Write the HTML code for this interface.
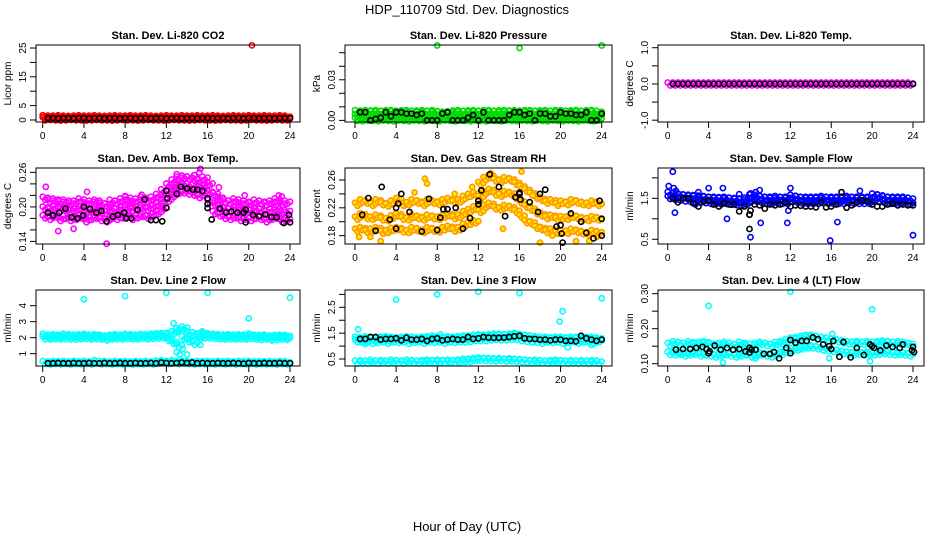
<!DOCTYPE html>
<html><head><meta charset="utf-8"><style>
body{margin:0;background:#fff;}
svg{display:block;font-family:"Liberation Sans",sans-serif;}
</style></head><body>
<svg id="chart" width="936" height="540" viewBox="0 0 936 540" xmlns="http://www.w3.org/2000/svg">
<rect width="936" height="540" fill="#fff"/>
<text x="467" y="14" font-size="13" text-anchor="middle">HDP_110709  Std. Dev. Diagnostics</text>
<text x="467" y="531" font-size="13" text-anchor="middle">Hour of Day (UTC)</text>
</svg>
<script>
const NS="http://www.w3.org/2000/svg";
const xTicks=[0,4,8,12,16,20,24];
const denseT=[0.25,0.75,1.25,1.75,2.25,2.75,3.25,3.75,4.25,4.75,5.25,5.75,6.25,6.75,7.25,7.75,8.25,8.75,9.25,9.75,10.25,10.75,11.25,11.75,12.25,12.75,13.25,13.75,14.25,14.75,15.25,15.75,16.25,16.75,17.25,17.75,18.25,18.75,19.25,19.75,20.25,20.75,21.25,21.75,22.25,22.75,23.25,23.75];
const blkT=[0.5,1,1.5,2,2.5,3,3.5,4,4.5,5,5.5,6,6.5,7,7.5,8,8.5,9,9.5,10,10.5,11,11.5,12,12.5,13,13.5,14,14.5,15,15.5,16,16.5,17,17.5,18,18.5,19,19.5,20,20.5,21,21.5,22,22.5,23,23.5,24];

// Panel 1 CO2
const co2Hi=[1.1,1.0,1.0,1.1,1.0,0.9,1.0,1.1,1.0,1.0,1.1,1.0,0.9,1.0,1.1,1.0,1.0,1.1,1.0,1.0,1.1,1.0,0.9,1.0,1.1,1.0,1.0,1.1,1.0,1.0,1.1,1.0,1.0,1.1,1.0,0.9,1.0,1.1,1.0,1.0,1.1,1.0,1.0,1.1,1.0,1.0,1.1,1.0];
const co2Lo=[0.4,0.5,0.4,0.3,0.4,0.5,0.4,0.4,0.3,0.4,0.5,0.4,0.4,0.3,0.4,0.5,0.4,0.4,0.3,0.4,0.5,0.4,0.4,0.3,0.4,0.5,0.4,0.4,0.3,0.4,0.5,0.4,0.4,0.3,0.4,0.5,0.4,0.4,0.3,0.4,0.5,0.4,0.4,0.3,0.4,0.5,0.4,0.4];
const co2OutT=[0.1,20.3];
const co2OutV=[1.0,25.9];
const co2Blk=[0.7,0.7,0.6,0.7,0.7,0.6,0.7,0.7,0.6,0.7,0.7,0.6,0.7,0.7,0.6,0.7,0.7,0.6,0.7,0.7,0.6,0.7,0.7,0.6,0.7,0.7,0.6,0.7,0.7,0.6,0.7,0.7,0.6,0.7,0.7,0.6,0.7,0.7,0.6,0.7,0.7,0.6,0.7,0.7,0.6,0.7,0.7,0.6];
// Panel 2 pressure
const presHi=[0.0065,0.006,0.0065,0.0062,0.0065,0.006,0.0064,0.0065,0.006,0.0063,0.0065,0.006,0.0062,0.0065,0.006,0.0064,0.0055,0.0052,0.0055,0.0062,0.0065,0.006,0.0063,0.0065,0.006,0.0064,0.0065,0.006,0.0063,0.0065,0.0062,0.0065,0.006,0.0064,0.0065,0.006,0.0063,0.0065,0.006,0.0064,0.0065,0.006,0.0063,0.0065,0.006,0.0064,0.0065,0.006];
const presMid=[0.0035,0.003,0.0032,0.0035,0.003,0.0033,0.0035,0.003,0.0032,0.0035,0.003,0.0033,0.0035,0.003,0.0032,0.0035,0.003,0.0028,0.003,0.0032,0.0035,0.003,0.0033,0.0035,0.003,0.0032,0.0035,0.003,0.0033,0.0035,0.003,0.0032,0.0035,0.003,0.0033,0.0035,0.003,0.0032,0.0035,0.003,0.0033,0.0035,0.003,0.0032,0.0035,0.003,0.0033,0.0035];
const presLo=[0.0008,0.0005,0.001,0.0008,0.0005,0.001,0.0008,0.0005,0.001,0.0008,0.0005,0.001,0.0008,0.0005,0.001,0.0008,0.0005,0.001,0.0008,0.0005,0.001,0.0008,0.0005,0.001,0.0008,0.0005,0.001,0.0008,0.0005,0.001,0.0008,0.0005,0.001,0.0008,0.0005,0.001,0.0008,0.0005,0.001,0.0008,0.0005,0.001,0.0008,0.0005,0.001,0.0008,0.0005,0.001];
const presOutT=[8,16,24];
const presOutV=[0.0553,0.0535,0.0553];
const presBlk=[0.006,0.006,0.000,0.001,0.002,0.006,0.003,0.006,0.006,0.005,0.005,0.004,0.005,0.000,0.000,0.000,0.005,0.006,0.000,0.000,0.000,0.002,0.004,0.000,0.006,0.000,0.000,0.000,0.000,0.004,0.006,0.006,0.004,0.005,0.000,0.005,0.005,0.003,0.003,0.006,0.005,0.005,0.004,0.004,0.006,0.000,0.000,0.005];
// Panel 3 temp
const tempMag=[0,0,0,0,0,0,0,0,0,0,0,0,0,0,0,0,0,0,0,0,0,0,0,0,0,0,0,0,0,0,0,0,0,0,0,0,0,0,0,0,0,0,0,0,0,0,0,0];
const tempBlk=[0,0,0,0,0,0,0,0,0,0,0,0,0,0,0,0,0,0,0,0,0,0,0,0,0,0,0,0,0,0,0,0,0,0,0,0,0,0,0,0,0,0,0,0,0,0,0,0];
// Panel 4 amb box temp
const ambHi=[0.215,0.21,0.212,0.208,0.21,0.205,0.208,0.212,0.205,0.208,0.21,0.205,0.203,0.21,0.208,0.212,0.215,0.208,0.212,0.215,0.21,0.215,0.22,0.228,0.238,0.245,0.25,0.252,0.25,0.248,0.245,0.25,0.24,0.222,0.215,0.21,0.208,0.212,0.205,0.208,0.205,0.21,0.208,0.205,0.208,0.212,0.205,0.208];
const ambMid=[0.198,0.195,0.2,0.195,0.197,0.192,0.195,0.198,0.19,0.195,0.197,0.192,0.19,0.196,0.194,0.198,0.2,0.195,0.198,0.2,0.196,0.2,0.205,0.212,0.225,0.232,0.238,0.24,0.238,0.236,0.232,0.236,0.225,0.205,0.2,0.196,0.194,0.198,0.192,0.195,0.192,0.196,0.194,0.19,0.194,0.196,0.19,0.192];
const ambLo=[0.183,0.18,0.185,0.178,0.182,0.178,0.18,0.183,0.176,0.18,0.182,0.178,0.176,0.182,0.18,0.183,0.185,0.18,0.183,0.185,0.182,0.186,0.19,0.198,0.212,0.22,0.225,0.226,0.224,0.222,0.218,0.222,0.21,0.19,0.186,0.182,0.18,0.183,0.178,0.18,0.178,0.182,0.18,0.176,0.18,0.182,0.176,0.178];
const ambOutT=[0.3,1.5,3.0,6.2,4.3,8.0,15.2,15.3,14.7,17.1,19.6,22.9,23.2,9.6,13.0];
const ambOutV=[0.235,0.158,0.162,0.136,0.226,0.219,0.26,0.266,0.255,0.234,0.22,0.22,0.218,0.221,0.257];
const ambBlkT=[0.5,1.0,1.6,2.2,2.8,3.4,3.9,4.0,4.6,5.2,5.7,6.2,6.8,7.3,7.9,8.1,8.6,9.2,9.9,10.5,11.0,11.6,12.0,12.0,12.1,13.0,13.4,14.0,14.6,15.0,15.5,16.0,16.0,16.0,16.4,17.2,17.8,18.3,18.9,19.5,19.7,19.7,20.4,21.0,21.6,22.2,22.7,23.4,23.9,24.0];
const ambBlkV=[0.19,0.185,0.19,0.197,0.182,0.18,0.185,0.20,0.196,0.19,0.193,0.175,0.183,0.186,0.19,0.18,0.18,0.195,0.213,0.177,0.177,0.175,0.198,0.228,0.215,0.223,0.235,0.232,0.23,0.23,0.228,0.215,0.205,0.198,0.178,0.197,0.19,0.192,0.19,0.19,0.195,0.173,0.186,0.184,0.187,0.182,0.182,0.172,0.186,0.173];
// Panel 5 RH
const rhHi=[0.225,0.23,0.228,0.225,0.23,0.226,0.224,0.228,0.232,0.225,0.226,0.23,0.228,0.225,0.23,0.228,0.226,0.23,0.232,0.228,0.23,0.235,0.238,0.24,0.255,0.262,0.265,0.26,0.258,0.262,0.26,0.255,0.25,0.245,0.24,0.235,0.232,0.228,0.23,0.225,0.228,0.226,0.23,0.228,0.226,0.225,0.228,0.225];
const rhMid=[0.205,0.21,0.206,0.205,0.208,0.204,0.203,0.207,0.21,0.205,0.204,0.208,0.206,0.204,0.208,0.206,0.205,0.208,0.21,0.206,0.208,0.213,0.216,0.22,0.235,0.242,0.245,0.24,0.238,0.242,0.24,0.235,0.228,0.222,0.218,0.213,0.21,0.206,0.208,0.204,0.206,0.205,0.208,0.206,0.204,0.203,0.206,0.204];
const rhLo=[0.188,0.19,0.186,0.188,0.19,0.185,0.186,0.189,0.19,0.187,0.186,0.19,0.188,0.186,0.19,0.188,0.187,0.19,0.192,0.188,0.19,0.195,0.198,0.2,0.215,0.222,0.225,0.22,0.218,0.222,0.22,0.215,0.208,0.2,0.198,0.192,0.19,0.186,0.188,0.185,0.186,0.185,0.188,0.186,0.184,0.183,0.186,0.184];
const rhOutT=[0.4,1.5,6.8,7.0,2.5,18.0,17.3,13.2,14.4,11.4,19.2,21.5,22.8,23.5,24.0,9.7,16.2,5.8];
const rhOutV=[0.178,0.178,0.262,0.255,0.172,0.17,0.238,0.27,0.19,0.25,0.18,0.172,0.172,0.178,0.185,0.24,0.272,0.242];
const rhBlkT=[0.7,1.3,2.0,2.6,3.4,4.0,4.2,4.0,4.5,5.3,6.5,7.2,8.0,8.3,8.6,9.0,9.8,10.5,11.2,12.0,12.0,12.3,13.1,14.0,14.6,15.6,16.0,16.0,16.1,17.0,17.8,18.5,18.0,19.6,20.0,21.0,22.0,22.5,23.2,24.0,23.8,24.0,20.2,20.1];
const rhBlkV=[0.21,0.234,0.187,0.25,0.203,0.19,0.226,0.22,0.24,0.214,0.186,0.233,0.188,0.206,0.218,0.218,0.22,0.19,0.205,0.23,0.225,0.245,0.268,0.25,0.208,0.235,0.24,0.242,0.232,0.228,0.214,0.246,0.24,0.193,0.195,0.212,0.2,0.184,0.176,0.204,0.23,0.18,0.17,0.183];
// Panel 6 sample flow
const sfHi=[1.62,1.6,1.58,1.56,1.55,1.54,1.53,1.52,1.5,1.5,1.49,1.5,1.48,1.47,1.46,1.48,1.56,1.55,1.52,1.5,1.5,1.52,1.5,1.5,1.55,1.52,1.5,1.5,1.5,1.5,1.52,1.5,1.5,1.5,1.5,1.52,1.5,1.5,1.5,1.5,1.58,1.56,1.52,1.5,1.5,1.5,1.5,1.48];
const sfLo=[1.52,1.5,1.48,1.46,1.45,1.44,1.43,1.42,1.4,1.4,1.39,1.4,1.38,1.37,1.36,1.38,1.46,1.45,1.42,1.4,1.4,1.42,1.4,1.4,1.45,1.42,1.4,1.4,1.4,1.4,1.42,1.4,1.4,1.4,1.4,1.42,1.4,1.4,1.4,1.4,1.48,1.46,1.42,1.4,1.4,1.4,1.4,1.38];
const sfOutT=[0.1,0.5,0.6,0.7,2.7,3.0,4.0,5.4,5.8,7.0,8.1,8.1,8.6,9.0,9.1,11.7,12.0,11.8,15.9,16.6,18.8,24.0,0.8];
const sfOutV=[1.8,2.15,1.75,1.15,1.35,1.65,1.75,1.75,1.0,1.6,1.62,0.55,1.65,1.7,0.9,0.9,1.75,1.2,0.47,0.92,1.68,0.6,1.68];
const sfBlk=[1.5,1.4,1.5,1.5,1.38,1.3,1.42,1.45,1.35,1.3,1.38,1.35,1.35,1.18,1.3,1.1,1.35,1.33,1.25,1.35,1.33,1.35,1.4,1.3,1.33,1.32,1.3,1.3,1.28,1.4,1.28,1.3,1.35,1.65,1.27,1.33,1.4,1.45,1.43,1.35,1.3,1.3,1.35,1.37,1.33,1.35,1.33,1.33];
const sfBlkOutT=[8.0,8.0,8.1];
const sfBlkOutV=[0.75,1.1,1.2];
// Panel 7 line 2
const l2Hi=[2.15,2.1,2.12,2.1,2.15,2.12,2.1,2.12,2.15,2.1,2.12,2.1,2.05,2.1,2.12,2.1,2.15,2.12,2.1,2.15,2.12,2.15,2.18,2.2,2.2,2.3,2.5,2.6,2.3,2.25,2.15,2.2,2.18,2.15,2.12,2.1,2.12,2.1,2.12,2.1,2.15,2.1,2.08,2.1,2.05,2.08,2.1,2.08];
const l2Lo=[2.0,1.98,2.0,1.98,2.0,1.98,1.97,2.0,2.02,1.98,2.0,1.98,1.92,1.98,2.0,1.98,2.02,2.0,1.98,2.02,2.0,2.02,2.05,2.06,1.9,1.7,1.5,2.0,1.8,1.65,2.0,2.05,2.05,2.02,2.0,1.98,2.0,1.98,2.0,1.98,2.02,1.98,1.95,1.98,1.92,1.95,1.98,1.96];
const l2Low=[0.45,0.42,0.45,0.43,0.45,0.42,0.45,0.43,0.45,0.42,0.5,0.43,0.45,0.42,0.45,0.43,0.45,0.42,0.45,0.43,0.45,0.42,0.47,0.5,0.45,0.5,0.45,0.48,0.45,0.42,0.45,0.43,0.45,0.42,0.45,0.43,0.45,0.42,0.45,0.43,0.45,0.42,0.45,0.43,0.45,0.42,0.45,0.43];
const l2OutT=[4,8,12,16,20,24,12.7,13.0,13.3,13.6,14.0,13.2,15.5,15.3];
const l2OutV=[4.4,4.6,4.8,4.8,3.2,4.5,2.9,1.1,0.95,1.3,0.95,2.5,2.4,1.55];
const l2Blk=[0.4,0.4,0.42,0.4,0.4,0.42,0.4,0.4,0.42,0.4,0.4,0.42,0.4,0.4,0.42,0.4,0.4,0.42,0.4,0.4,0.42,0.4,0.45,0.42,0.4,0.42,0.45,0.42,0.45,0.4,0.42,0.4,0.4,0.42,0.4,0.4,0.42,0.4,0.38,0.42,0.4,0.4,0.42,0.4,0.4,0.42,0.4,0.4];
// Panel 8 line 3
const l3Hi=[1.3,1.28,1.32,1.3,1.28,1.3,1.32,1.3,1.28,1.3,1.32,1.3,1.28,1.3,1.32,1.35,1.32,1.3,1.32,1.3,1.32,1.35,1.35,1.38,1.4,1.38,1.4,1.42,1.42,1.4,1.42,1.45,1.4,1.38,1.35,1.32,1.3,1.3,1.28,1.3,1.3,1.28,1.3,1.3,1.28,1.3,1.3,1.28];
const l3Lo=[1.2,1.18,1.2,1.15,1.18,1.2,1.15,1.2,1.18,1.2,1.15,1.18,1.2,1.15,1.2,1.18,1.2,1.15,1.2,1.18,1.2,1.2,1.22,1.25,1.25,1.25,1.28,1.3,1.28,1.28,1.3,1.3,1.25,1.22,1.2,1.18,1.15,1.2,1.18,1.2,1.15,1.18,1.2,1.15,1.2,1.18,1.15,1.2];
const l3Low=[0.38,0.4,0.38,0.42,0.38,0.4,0.38,0.42,0.4,0.38,0.42,0.4,0.38,0.4,0.42,0.4,0.42,0.4,0.42,0.4,0.42,0.45,0.45,0.48,0.5,0.48,0.48,0.47,0.48,0.46,0.47,0.45,0.44,0.42,0.4,0.42,0.4,0.38,0.4,0.42,0.4,0.38,0.4,0.38,0.4,0.38,0.4,0.38];
const l3OutT=[0.3,4.0,8.0,12.0,16.0,19.9,20.2,24.0,20.7,23.0,8.3,1.0];
const l3OutV=[1.65,2.8,3.0,3.1,3.05,1.95,2.35,2.85,0.95,1.05,1.45,1.08];
const l3Blk=[1.28,1.28,1.35,1.35,1.25,1.28,1.28,1.3,1.22,1.32,1.25,1.25,1.28,1.2,1.28,1.3,1.22,1.25,1.28,1.25,1.25,1.35,1.28,1.3,1.35,1.33,1.32,1.32,1.33,1.35,1.38,1.4,1.3,1.28,1.28,1.25,1.25,1.22,1.25,1.25,1.2,1.2,1.18,1.4,1.3,1.25,1.2,1.25];
// Panel 9 line 4
const l4Hi=[0.155,0.16,0.158,0.155,0.16,0.155,0.158,0.16,0.155,0.152,0.155,0.158,0.155,0.152,0.158,0.155,0.152,0.155,0.158,0.155,0.152,0.158,0.16,0.165,0.17,0.172,0.175,0.178,0.178,0.175,0.172,0.17,0.168,0.165,0.162,0.16,0.158,0.16,0.158,0.16,0.158,0.16,0.162,0.16,0.158,0.16,0.158,0.155];
const l4Lo=[0.13,0.128,0.13,0.125,0.128,0.13,0.125,0.128,0.125,0.122,0.125,0.128,0.125,0.122,0.125,0.128,0.122,0.125,0.128,0.125,0.122,0.128,0.13,0.135,0.14,0.142,0.145,0.148,0.148,0.145,0.142,0.14,0.138,0.135,0.132,0.13,0.128,0.13,0.128,0.13,0.128,0.13,0.132,0.13,0.128,0.13,0.128,0.125];
const l4OutT=[4,12,20,5.4,19.8,1.2,7.6,16.1,15.8,18.5,8.6];
const l4OutV=[0.265,0.305,0.255,0.103,0.107,0.13,0.155,0.185,0.115,0.16,0.115];
const l4BlkT=[0.8,1.5,2.2,2.8,3.4,4.0,4.1,3.8,4.6,5.2,5.8,6.4,7.0,7.6,8.0,8.2,8.0,8.6,9.4,10.0,10.4,10.9,11.6,12.0,12.0,12.5,13.1,13.6,14.2,14.7,15.2,15.8,16.0,16.2,16.8,17.2,17.9,18.5,19.2,19.8,20.0,20.2,20.8,21.4,22.0,22.7,23.0,23.9,24.0,24.1];
const l4BlkV=[0.14,0.142,0.142,0.145,0.148,0.13,0.135,0.142,0.152,0.14,0.145,0.14,0.142,0.135,0.145,0.14,0.132,0.14,0.128,0.128,0.133,0.115,0.145,0.13,0.168,0.16,0.165,0.165,0.175,0.17,0.155,0.15,0.142,0.165,0.12,0.162,0.118,0.145,0.125,0.155,0.15,0.145,0.138,0.152,0.148,0.145,0.155,0.138,0.148,0.133];

const COLS=[{l:36,r:300,x0:42.7,x24:290},{l:345,r:612,x0:355,x24:601.7},{l:658,r:924,x0:667.7,x24:913}];
const ROWS=[{t:45,b:122},{t:168,b:244},{t:290,b:366}];
const svg=document.getElementById('chart');
function mk(tag,attrs,parent){const e=document.createElementNS(NS,tag);for(const k in attrs)e.setAttribute(k,attrs[k]);(parent||svg).appendChild(e);return e;}

const panels=[
 {name:'co2',title:'Stan. Dev. Li-820 CO2',ylab:'Licor ppm',ylim:[-0.7,26.05],ticks:[0,5,10,15,20,25],labels:['0','5','','15','','25'],
  series:[{c:'#ff0000',dense:2,t:[denseT,denseT,co2OutT],v:[co2Hi,co2Lo,co2OutV]},{c:'#000',t:[blkT],v:[co2Blk]}]},
 {name:'pressure',title:'Stan. Dev. Li-820 Pressure',ylab:'kPa',ylim:[-0.0012,0.0557],ticks:[0,0.01,0.02,0.03,0.04,0.05],labels:['0.00','','','0.03','',''],
  series:[{c:'#00dd00',dense:3,t:[denseT,denseT,denseT,presOutT],v:[presHi,presMid,presLo,presOutV]},{c:'#000',t:[blkT],v:[presBlk]}]},
 {name:'licor-temp',title:'Stan. Dev. Li-820 Temp.',ylab:'degrees C',ylim:[-1.05,1.075],ticks:[-1,-0.5,0,0.5,1],labels:['-1.0','','0.0','','1.0'],
  series:[{c:'#ff00ff',dense:1,t:[denseT],v:[tempMag]},{c:'#000',t:[blkT],v:[tempBlk]}]},
 {name:'amb-temp',title:'Stan. Dev. Amb. Box Temp.',ylab:'degrees C',ylim:[0.1355,0.2676],ticks:[0.14,0.16,0.18,0.2,0.22,0.24,0.26],labels:['0.14','','','0.20','','','0.26'],
  series:[{c:'#ff00ff',dense:3,t:[denseT,denseT,denseT,ambOutT],v:[ambHi,ambMid,ambLo,ambOutV]},{c:'#000',t:[ambBlkT],v:[ambBlkV]}]},
 {name:'gas-rh',title:'Stan. Dev. Gas Stream RH',ylab:'percent',ylim:[0.168,0.2772],ticks:[0.18,0.2,0.22,0.24,0.26],labels:['0.18','','0.22','','0.26'],
  series:[{c:'#ff9900',f:'#ffee00',dense:3,t:[denseT,denseT,denseT,rhOutT],v:[rhHi,rhMid,rhLo,rhOutV]},{c:'#000',t:[rhBlkT],v:[rhBlkV]}]},
 {name:'sample-flow',title:'Stan. Dev. Sample Flow',ylab:'ml/min',ylim:[0.385,2.24],ticks:[0.5,1,1.5,2],labels:['0.5','','1.5',''],
  series:[{c:'#0000ff',dense:2,t:[denseT,denseT,sfOutT],v:[sfHi,sfLo,sfOutV]},{c:'#000',t:[blkT,sfBlkOutT],v:[sfBlk,sfBlkOutV]}]},
 {name:'line2-flow',title:'Stan. Dev. Line 2 Flow',ylab:'ml/min',ylim:[0.23,4.98],ticks:[1,2,3,4],labels:['1','2','3','4'],
  series:[{c:'#00ffff',dense:3,t:[denseT,denseT,denseT,l2OutT],v:[l2Hi,l2Lo,l2Low,l2OutV]},{c:'#000',t:[blkT],v:[l2Blk]}]},
 {name:'line3-flow',title:'Stan. Dev. Line 3 Flow',ylab:'ml/min',ylim:[0.23,3.17],ticks:[0.5,1,1.5,2,2.5,3],labels:['0.5','','1.5','','2.5',''],
  series:[{c:'#00ffff',dense:3,t:[denseT,denseT,denseT,l3OutT],v:[l3Hi,l3Lo,l3Low,l3OutV]},{c:'#000',t:[blkT],v:[l3Blk]}]},
 {name:'line4-flow',title:'Stan. Dev. Line 4 (LT) Flow',ylab:'ml/min',ylim:[0.0934,0.3105],ticks:[0.1,0.15,0.2,0.25,0.3],labels:['0.10','','0.20','','0.30'],
  series:[{c:'#00ffff',dense:2,t:[denseT,denseT,l4OutT],v:[l4Hi,l4Lo,l4OutV]},{c:'#000',t:[l4BlkT],v:[l4BlkV]}]}
];

panels.forEach((p,i)=>{
  const C=COLS[i%3],R=ROWS[Math.floor(i/3)];
  const g=mk('g',{});
  
  
  const xs=t=>C.x0+(C.x24-C.x0)*t/24;
  const ys=v=>R.b-(v-p.ylim[0])/(p.ylim[1]-p.ylim[0])*(R.b-R.t);
  const title=mk('text',{x:(C.l+C.r)/2,y:R.t-6,'font-size':11,'font-weight':'bold','text-anchor':'middle'},g);
  title.textContent=p.title;
  
  
  p.series.forEach((s,si)=>{
    const sg=mk('g',{fill:s.f||'none',stroke:s.c,'stroke-width':1.6},g);
    
    
    s.t.forEach((tArr,k)=>{
      const vArr=s.v[k];
      // dense (binned) series are rendered as small clusters of markers to mimic overplotting
      const offs=(s.dense&&k<s.dense)?[[-2.6,-1.5],[0,1.5],[2.6,-0.5]]:[[0,0]];
      tArr.forEach((t,j)=>{
        offs.forEach(o=>{
          const c=mk('circle',{cx:(xs(t)+o[0]).toFixed(1),cy:(ys(vArr[j])+o[1]).toFixed(1),r:2.6},sg);
          
          
        });
      });
    });
  });
  const box=mk('rect',{x:C.l,y:R.t,width:C.r-C.l,height:R.b-R.t,fill:'none',stroke:'#000','stroke-width':1},g);
  
  
  const xa=mk('g',{stroke:'#000','stroke-width':1},g);
  
  
  mk('line',{x1:xs(xTicks[0]),x2:xs(xTicks[xTicks.length-1]),y1:R.b,y2:R.b},xa);
  xTicks.forEach(t=>{
    mk('line',{x1:xs(t),x2:xs(t),y1:R.b,y2:R.b+6},xa);
    const tx=mk('text',{x:xs(t),y:R.b+17,'font-size':10,'text-anchor':'middle',stroke:'none',fill:'#000'},xa);
    tx.textContent=t;
    
    
  });
  const ya=mk('g',{stroke:'#000','stroke-width':1},g);
  
  
  mk('line',{x1:C.l,x2:C.l,y1:ys(p.ticks[0]),y2:ys(p.ticks[p.ticks.length-1])},ya);
  p.ticks.forEach((v,k)=>{
    const y=ys(v);
    mk('line',{x1:C.l-6,x2:C.l,y1:y,y2:y},ya);
    if(p.labels[k]){
      const tx=mk('text',{x:C.l-10,y:y,'font-size':10,'text-anchor':'middle',stroke:'none',fill:'#000',transform:`rotate(-90 ${C.l-10} ${y})`},ya);
      tx.textContent=p.labels[k];
      
      
    }
  });
  const yc=(R.t+R.b)/2;
  const yl=mk('text',{x:C.l-25,y:yc,'font-size':10,'text-anchor':'middle',transform:`rotate(-90 ${C.l-25} ${yc})`},g);
  yl.textContent=p.ylab;
  
  
});
</script>
</body></html>
